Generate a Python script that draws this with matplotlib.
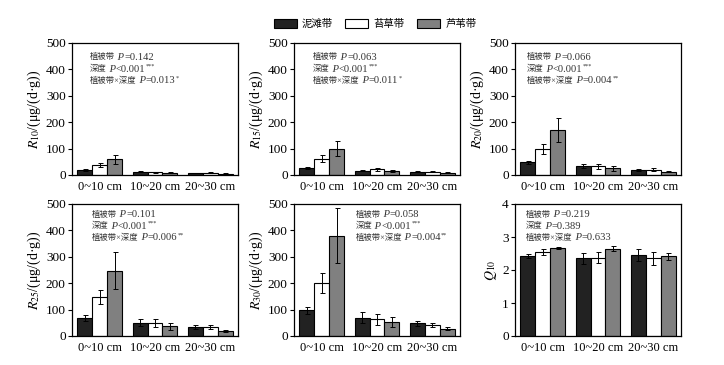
import numpy as np
import matplotlib
matplotlib.use("Agg")
import matplotlib.pyplot as plt
from matplotlib.patches import Patch

plt.rcParams['font.family'] = ['Liberation Serif', 'Noto Sans CJK SC']
plt.rcParams['mathtext.fontset'] = 'stix'

depths = ["0~10 cm", "10~20 cm", "20~30 cm"]
zones = ["泥滩带", "苔草带", "芦苇带"]
colors = ["#222222", "#ffffff", "#808080"]

# means per zone, ordered by depth
r10 = [[18, 13, 8], [38, 10, 9], [60, 9, 5]]
r10_err = [[3, 2, 1], [7, 2, 2], [17, 3, 1]]
r15 = [[25, 17, 12], [62, 21, 13], [100, 15, 8]]
r15_err = [[4, 3, 2], [12, 7, 3], [28, 5, 2]]
r20 = [[48, 33, 20], [98, 33, 20], [170, 25, 13]]
r20_err = [[5, 8, 4], [18, 9, 5], [45, 10, 3]]
r25 = [[68, 50, 35], [148, 50, 34], [248, 36, 20]]
r25_err = [[10, 14, 8], [27, 15, 6], [70, 15, 4]]
r30 = [[98, 70, 48], [200, 63, 41], [380, 53, 28]]
r30_err = [[13, 20, 10], [38, 22, 7], [105, 20, 7]]
q10 = [[2.42, 2.35, 2.46], [2.55, 2.37, 2.35], [2.68, 2.65, 2.41]]
q10_err = [[0.07, 0.17, 0.18], [0.10, 0.17, 0.20], [0.03, 0.08, 0.12]]

ylabels = [r"$R_{10}$/(μg/(d·g))", r"$R_{15}$/(μg/(d·g))", r"$R_{20}$/(μg/(d·g))",
           r"$R_{25}$/(μg/(d·g))", r"$R_{30}$/(μg/(d·g))", r"$Q_{10}$"]
# (label, relation, p value, stars)
stats = [
    [("植被带", "=", "0.142", ""), ("深度", "<", "0.001", "***"), ("植被带×深度", "=", "0.013", "*")],
    [("植被带", "=", "0.063", ""), ("深度", "<", "0.001", "***"), ("植被带×深度", "=", "0.011", "*")],
    [("植被带", "=", "0.066", ""), ("深度", "<", "0.001", "***"), ("植被带×深度", "=", "0.004", "**")],
    [("植被带", "=", "0.101", ""), ("深度", "<", "0.001", "***"), ("植被带×深度", "=", "0.006", "**")],
    [("植被带", "=", "0.058", ""), ("深度", "<", "0.001", "***"), ("植被带×深度", "=", "0.004", "**")],
    [("植被带", "=", "0.219", ""), ("深度", "=", "0.389", ""), ("植被带×深度", "=", "0.633", "")],
]
text_x = [0.108, 0.115, 0.072, 0.12, 0.37, 0.066]

data = [(r10, r10_err), (r15, r15_err), (r20, r20_err),
        (r25, r25_err), (r30, r30_err), (q10, q10_err)]


def stat_line(ax, x0, y0, label, rel, p, stars):
    col = "#333333"
    t = ax.text(x0, y0, label, transform=ax.transAxes, fontsize=6.0,
                va="bottom", ha="left", color=col)
    t = ax.annotate(" P", xy=(1, 0), xycoords=t, xytext=(0, -0.4),
                    textcoords="offset points", fontsize=7.6, style="italic",
                    va="bottom", ha="left", color=col)
    t = ax.annotate(rel + p, xy=(1, 0), xycoords=t, fontsize=7.6,
                    va="bottom", ha="left", color=col)
    if stars:
        ax.annotate(stars, xy=(1, 0), xycoords=t, xytext=(0.3, 3.2),
                    textcoords="offset points", fontsize=4.5,
                    va="bottom", ha="left", color=col)


fig = plt.figure(figsize=(7.24, 3.65), dpi=100)
lefts = [72, 294, 515]
bottoms = [175, 336]
W, H = 166, 132

x = np.arange(3)
w = 0.27
for i, (vals, errs) in enumerate(data):
    r, c = divmod(i, 3)
    ax = fig.add_axes([lefts[c] / 724, 1 - bottoms[r] / 365, W / 724, H / 365])
    for k in range(3):
        ax.bar(x + (k - 1) * w, vals[k], w, yerr=errs[k], color=colors[k],
               edgecolor="black", linewidth=0.8, capsize=1.8,
               error_kw=dict(elinewidth=0.7, capthick=0.7))
    ax.set_xlim(-0.5, 2.5)
    if i == 5:
        ax.set_ylim(0, 4)
        ax.set_yticks([0, 1, 2, 3, 4])
    else:
        ax.set_ylim(0, 500)
        ax.set_yticks([0, 100, 200, 300, 400, 500])
    ax.set_xticks(x)
    ax.set_xticklabels(depths)
    ax.tick_params(axis="x", labelsize=9, length=0, pad=4)
    ax.tick_params(axis="y", labelsize=9.5, length=3, direction="out", pad=1.5)
    for s in ax.spines.values():
        s.set_linewidth(0.9)
    ax.set_ylabel(ylabels[i], fontsize=10, labelpad=2)
    y0 = 0.86 if r == 0 else 0.89
    for j, (lab, rel, p, st) in enumerate(stats[i]):
        stat_line(ax, text_x[i], y0 - j * 0.087, lab, rel, p, st)

handles = [Patch(facecolor=colors[k], edgecolor="black", linewidth=0.8) for k in range(3)]
fig.legend(handles, zones, loc="center", bbox_to_anchor=(375 / 724, 1 - 24 / 365),
           ncol=3, frameon=False, fontsize=7.5, handlelength=2.2, handleheight=0.85,
           columnspacing=1.2, handletextpad=0.5)

fig.savefig("out.png", dpi=100)
